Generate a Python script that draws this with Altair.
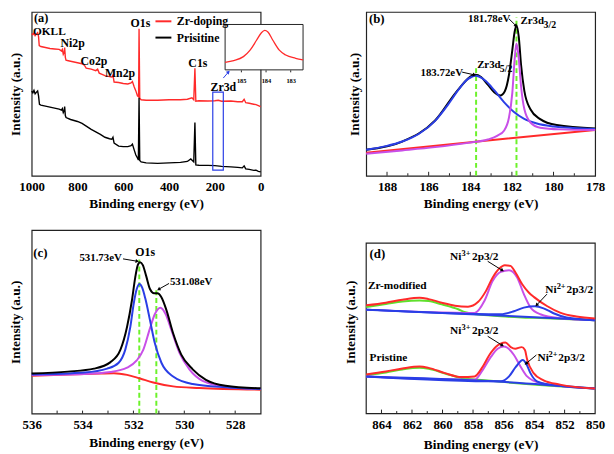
import altair as alt
import pandas as pd

FONT = "Liberation Serif"
RED = "#ff2a2a"
BLACK = "#000000"
BLUE = "#2a3ee6"
MAGENTA = "#c84fe8"
GREEN = "#5fe02c"
LIME = "#6cf22a"
FRAME = "#222222"

W = 232
H_TOP = 166
H_BOT = 186
XTITLE = "Binding energy (eV)"
YTITLE = "Intensity (a.u.)"

# ---------------- (a) survey spectra ----------------
a_red_ev = [1000, 995, 990, 985, 978, 974, 970, 967, 960, 940, 920, 900, 880, 870, 866, 862, 858, 856, 853, 850,
            840, 820, 800, 780, 770, 762, 740, 720, 712, 705, 690, 680, 660, 650, 645, 640, 620, 600, 580, 566,
            560, 552, 545, 538, 533, 531, 528, 522, 500, 450, 400, 350, 320, 300, 292, 287, 283, 270, 230, 200,
            185, 170, 130, 100, 80, 72, 65, 50, 30, 20, 10, 0]
a_red_int = [144, 143, 144.5, 142, 144, 145, 141, 132, 131, 130, 129, 128.5, 128, 126.5, 128, 123, 125, 130, 120, 117,
             116.5, 115.5, 114.5, 113.5, 112, 109, 108, 106.5, 108, 104, 102.5, 101.5, 100.5, 100, 102, 95, 94.5, 93.5, 93, 94,
             95.5, 90, 86, 81, 80, 149, 78.5, 77, 76.5, 76.5, 77, 77, 77.5, 79, 77, 109, 75.5, 76, 75.7, 76,
             76.5, 75.5, 75.7, 75, 75, 77.5, 74, 73.5, 72.5, 72, 71, 70]
a_blk_ev = [1000, 995, 990, 985, 978, 974, 970, 966, 960, 940, 920, 900, 880, 870, 866, 862, 858, 856, 853, 850,
            830, 800, 780, 760, 740, 720, 700, 680, 660, 650, 645, 640, 620, 600, 580, 566, 560, 552, 545, 538,
            534, 531, 528, 522, 500, 450, 400, 350, 320, 305, 292, 287, 283, 270, 230, 200, 170, 130, 100, 80,
            72, 65, 50, 30, 20, 10, 0]
a_blk_int = [85.7, 84, 86.5, 83, 85, 86, 81, 72.3, 71.5, 70.5, 69.5, 68.5, 67.5, 66.5, 68, 64, 66, 70, 61, 59,
             57, 55, 53, 50, 47, 44.5, 42, 39, 37.5, 37, 39, 33, 30, 29.5, 29.5, 30.5, 32, 26, 21, 18,
             16, 79, 15.5, 14, 13, 12.5, 13, 13.5, 14.5, 17, 14, 54, 11, 10.7, 10.5, 10.2, 9.5, 9, 8.5, 8,
             10, 7, 6.5, 5.5, 5.7, 4.5, 4]
a_series = ["Zr-doping", "Prisitine"]
a_lbl_text = ["OKLL", "Ni2p", "Co2p", "Mn2p", "O1s", "C1s", "Zr3d"]
a_lbl_ev = [923, 821, 728, 614, 525, 274, 163]
a_lbl_int = [146, 134.7, 116.3, 104, 155, 114, 89.7]
a_box = {"x0": [209], "x1": [163], "y0": [5.7], "y1": [84.7]}
# inset (Zr3d zoom)
in_ev = [185.65, 185.3, 184.91, 184.64, 184.38, 184.19, 184.05, 183.92, 183.72, 183.46, 183.2, 182.8, 182.5]
in_int = [7.7, 9.4, 13.4, 20, 30, 37.4, 40, 38.4, 30, 20, 15, 11.7, 10]
in_ticks = [185, 184, 183]

# ---------------- (b) Zr3d ----------------
b_blk_ev = [189.0, 187.27, 185.69, 184.58, 183.92, 183.76, 183.48, 183.16, 182.85, 182.56, 182.34, 182.14, 181.98,
            181.87, 181.78, 181.67, 181.56, 181.4, 181.11, 180.64, 179.85, 178.0]
b_blk_int = [15.8, 20.8, 33.6, 52.4, 60.8, 61.4, 60, 55.4, 50.8, 48.8, 51.4, 61.4, 76.4, 87.4, 91.4, 84.4, 67.4,
             51.4, 40.4, 34.4, 30.8, 28.8]
b_blu_ev = [189.0, 188.05, 187.27, 186.48, 185.69, 185.06, 184.58, 184.19, 183.92, 183.76, 183.56, 183.24, 182.85,
            182.38, 181.9, 181.43, 180.8, 180.01, 179.06, 178.0]
b_blu_int = [15.8, 18, 20.8, 25.4, 33.4, 43.4, 52, 58, 60.2, 60.8, 60.2, 57.4, 52, 44.8, 38.8, 34.8, 31.8, 30, 29, 28.4]
b_mag_ev = [189.0, 187.27, 185.69, 184.11, 183.16, 182.69, 182.38, 182.14, 181.98, 181.87, 181.78, 181.67, 181.56,
            181.4, 181.11, 180.64, 179.69, 178.0]
b_mag_int = [13.4, 15.4, 17.4, 20, 22, 24.4, 27.4, 35.4, 50.4, 70.4, 80.4, 71.4, 54.4, 40.4, 32.4, 29.2, 28.2, 27.8]
b_red_ev = [189, 183.75, 178]
b_red_int = [14, 20.7, 27.8]
b_peak_ev = [183.72, 181.78]
b_peak_top = [66.4, 96.4]
b_tick_ev = [188, 187, 186, 185, 184, 183, 182, 181, 180, 179]
b_tick_len = [2.4, 1.5, 2.4, 1.5, 2.4, 1.5, 2.4, 1.5, 2.4, 1.5]

# ---------------- (c) O1s ----------------
c_blk_ev = [536, 534.58, 533.55, 532.9, 532.51, 532.25, 532.06, 531.93, 531.83, 531.74, 531.63, 531.5, 531.35,
            531.19, 531.06, 530.9, 530.7, 530.44, 530.12, 529.67, 529.15, 528.38, 527]
c_blk_int = [24.4, 25.6, 27.4, 31.4, 39, 53, 69, 83, 90.6, 92.4, 90.6, 84, 76, 73.4, 73.4, 71, 63, 49, 36, 27,
             20.6, 17, 15.4]
c_blu_ev = [536, 533.93, 533.03, 532.58, 532.32, 532.12, 531.99, 531.87, 531.76, 531.66, 531.53, 531.35, 531.16,
            530.9, 530.44, 529.67, 528.38, 527]
c_blu_int = [23.8, 25, 27.4, 31, 39, 53, 67, 76, 79, 77, 70, 57, 43, 31, 22.6, 18, 16, 15]
c_mag_ev = [536, 533.93, 532.9, 532.25, 531.87, 531.61, 531.35, 531.16, 530.94, 530.73, 530.51, 530.19, 529.8,
            529.28, 528.38, 527]
c_mag_int = [23.6, 24.2, 25.4, 28, 32.4, 39, 52, 60.6, 64.6, 60.6, 51, 37, 27, 20, 16.4, 15]
c_red_ev = [536, 534.58, 533.29, 532.77, 532.25, 531.74, 531.22, 530.44, 529.41, 527]
c_red_int = [23, 23.8, 24.4, 24.6, 23.6, 21.4, 19, 16.6, 15.6, 14.6]
c_peak_ev = [531.77, 531.1]
c_peak_top = [94, 76]
c_tick_ev = [535, 534, 533, 532, 531, 530, 529, 528]
c_tick_len = [1.8, 1.8, 1.8, 1.8, 1.8, 1.8, 1.8, 1.8]

# ---------------- (d) Ni2p ----------------
d_up_red_ev = [865, 863.71, 862.63, 861.5, 860.91, 860.05, 859.19, 858.33, 857.68, 857.15, 856.72, 856.28, 855.92,
               855.55, 855.21, 854.78, 854.35, 854.0, 853.16, 852.3, 851.23, 850]
d_up_red_int = [65.8, 67.4, 69.2, 70.4, 69.6, 67.4, 65.6, 65, 67.8, 74.6, 82.6, 88.2, 90.2, 89.8, 85.6, 78.6, 73.6,
                70.8, 65.4, 61.4, 59, 57.8]
d_up_mag_ev = [865, 857.9, 857.25, 856.72, 856.18, 855.64, 855.1, 854.67, 854.24, 853.59, 852.3, 850]
d_up_mag_int = [63.2, 61.2, 68.6, 80.6, 86.2, 87.2, 82.6, 72.6, 64.6, 60.4, 58, 56.8]
d_up_blu_ev = [865, 856.18, 855.32, 854.67, 853.94, 853.38, 852.73, 851.87, 850]
d_up_blu_int = [63.2, 60.4, 62.2, 64.4, 65.2, 64, 61, 58.4, 56.8]
d_up_grn_ev = [865, 863.71, 862.63, 861.5, 860.91, 860.05, 858.97, 858.57, 856.63, 854.03, 850]
d_up_grn_int = [64.8, 66.6, 68.2, 68.8, 68.4, 66.4, 63.4, 61.8, 59.4, 58.2, 56.8]
d_up_base_ev = [865, 856.63, 850]
d_up_base_int = [63.2, 59.8, 56.8]
d_lo_red_ev = [865, 863.71, 862.63, 861.5, 860.91, 859.84, 858.76, 857.9, 857.36, 856.93, 856.5, 855.88, 855.53,
               855.24, 854.81, 854.6, 854.46, 854.03, 853.38, 852.3, 850]
d_lo_red_int = [23.8, 25.6, 27.4, 28.6, 27.8, 24.6, 22.2, 22.6, 28.6, 35.6, 40.6, 43.2, 40.4, 39.4, 40.4, 38.6,
                33, 24.6, 20.2, 17.6, 15.2]
d_lo_mag_ev = [865, 857.9, 857.36, 856.82, 856.39, 855.99, 855.75, 855.32, 854.89, 854.46, 853.59, 850]
d_lo_mag_int = [22.6, 20.6, 26.6, 34.6, 39.4, 40.8, 40, 35.6, 28.6, 22.6, 18.6, 15.2]
d_lo_blu_ev = [865, 856.18, 855.64, 855.21, 854.74, 854.5, 854.24, 853.81, 852.95, 850]
d_lo_blu_int = [22.6, 19.6, 22.6, 28.2, 32.6, 30, 24.6, 19.6, 17.6, 15.2]
d_lo_grn_ev = [865, 863.71, 862.63, 861.5, 860.91, 859.84, 858.76, 857.25, 850]
d_lo_grn_int = [23.4, 25, 26.8, 27.8, 27.2, 24.4, 21.6, 20.2, 15.2]
d_lo_base_ev = [865, 856.63, 850]
d_lo_base_int = [22.6, 19.6, 15.2]
d_tick_ev = [864, 863, 862, 861, 860, 859, 858, 857, 856, 855, 854, 853, 852, 851]
d_tick_len = [2.4, 1.5, 2.4, 1.5, 2.4, 1.5, 2.4, 1.5, 2.4, 1.5, 2.4, 1.5, 2.4, 1.5]
d_frame = {"x0": [865], "x1": [850], "y0": [0], "y1": [103.6]}


def sc(domain, rng=None):
    if rng is None:
        return alt.Scale(domain=domain, nice=False, zero=False)
    return alt.Scale(domain=domain, range=rng, nice=False, zero=False)


def make_panel(xdom, ydom, xvals, ypad, xpad):
    return {
        "xs": sc(xdom), "ys": sc(ydom),
        "xa": alt.Axis(values=xvals, title=XTITLE, format="d", labelPadding=5, titlePadding=xpad),
        "ya": alt.Axis(title=YTITLE, labels=False, titlePadding=ypad),
    }


def X(field, P):
    return alt.X(field, scale=P["xs"], axis=P["xa"])


def Y(field, P):
    return alt.Y(field, scale=P["ys"], axis=P["ya"])


def line(ev, inten, color, P, width=1.8, interp="monotone"):
    df = pd.DataFrame({"ev": ev, "I": inten})
    return alt.Chart(df).mark_line(color=color, strokeWidth=width, interpolate=interp).encode(
        x=X("ev:Q", P), y=Y("I:Q", P))


def texts(txt, ev, inten, P, size=11, align="center"):
    df = pd.DataFrame({"t": txt, "ev": ev, "I": inten})
    return alt.Chart(df).mark_text(font=FONT, fontWeight="bold", fontSize=size, align=align,
                                   baseline="middle", color="black").encode(
        x=X("ev:Q", P), y=Y("I:Q", P), text="t:N")


def arrows(x1, y1, x2, y2, ang, P, color="black"):
    df = pd.DataFrame({"x1": x1, "y1": y1, "x2": x2, "y2": y2, "ang": ang})
    base = alt.Chart(df)
    r = base.mark_rule(color=color, strokeWidth=1).encode(
        x=X("x1:Q", P), y=Y("y1:Q", P), x2="x2:Q", y2="y2:Q")
    h = base.mark_point(shape="triangle", filled=True, color=color, size=16, opacity=1).encode(
        x=X("x2:Q", P), y=Y("y2:Q", P), angle=alt.Angle("ang:Q", scale=None))
    return r + h


def vdash(ev, top, P):
    df = pd.DataFrame({"ev": ev, "top": top, "bot": [0] * len(ev)})
    return alt.Chart(df).mark_rule(color=LIME, strokeWidth=2, strokeDash=[5, 3]).encode(
        x=X("ev:Q", P), y=Y("bot:Q", P), y2="top:Q")


def ticks(tev, tlen, P):
    df = pd.DataFrame({"ev": tev, "len": tlen, "bot": [0] * len(tev)})
    return alt.Chart(df).mark_rule(color=FRAME, strokeWidth=1).encode(
        x=X("ev:Q", P), y=Y("bot:Q", P), y2="len:Q")


def frame_rect(d, P, fill="transparent", stroke=FRAME, width=1.2):
    return alt.Chart(pd.DataFrame(d)).mark_rect(fill=fill, stroke=stroke, strokeWidth=width).encode(
        x=X("x0:Q", P), x2="x1:Q", y=Y("y0:Q", P), y2="y1:Q")


# ================= panel (a) =================
PA = make_panel([1000, 0], [0, 166], [1000, 800, 600, 400, 200, 0], 9, 3)
survey_df = pd.concat([
    pd.DataFrame({"ev": a_red_ev, "I": a_red_int, "s": a_series[0]}),
    pd.DataFrame({"ev": a_blk_ev, "I": a_blk_int, "s": a_series[1]}),
])
survey = alt.Chart(survey_df).mark_line(strokeWidth=1.4, interpolate="linear").encode(
    x=X("ev:Q", PA), y=Y("I:Q", PA),
    color=alt.Color("s:N", scale=alt.Scale(domain=a_series, range=[RED, BLACK]),
                    legend=alt.Legend(orient="none", legendX=124, legendY=0, title=None,
                                      symbolType="stroke", symbolSize=260, symbolStrokeWidth=2,
                                      labelFont=FONT, labelFontSize=12, labelFontWeight="bold",
                                      labelColor="black", rowPadding=0.5, labelOffset=4, padding=0)),
)
main_a = alt.layer(
    survey,
    frame_rect(a_box, PA, stroke=BLUE),
    texts(a_lbl_text[:1], a_lbl_ev[:1], a_lbl_int[:1], PA, size=11.5),
    texts(a_lbl_text[1:], a_lbl_ev[1:], a_lbl_int[1:], PA, size=12),
    texts(["(a)"], [990], [160], PA, size=12.5, align="left"),
    arrows([163], [99], [142], [104.7], [45], PA, color=BLUE),
)
PIN = {
    "xs": sc([185.65, 182.5], [196, 275]),
    "ys": sc([0, 46], [58.7, 12.7]),
    "xa": alt.Axis(orient="bottom", offset=-(H_TOP - 58.7), values=in_ticks, labelFontSize=6.5, ticks=True,
                   tickSize=2, tickColor=FRAME, labelPadding=6, title=None, format="d"),
    "ya": None,
}
inset = alt.layer(
    frame_rect({"x0": [185.65], "x1": [182.5], "y0": [0], "y1": [46]}, PIN, fill="white", width=1),
    line(in_ev, in_int, RED, PIN, width=1.3),
)
panel_a = alt.layer(main_a, inset).resolve_scale(x="independent", y="independent").properties(
    width=W, height=H_TOP)

# ================= panel (b) =================
PB = make_panel([189, 178], [0, 99.6], [188, 186, 184, 182, 180, 178], 5, 3)
panel_b = alt.layer(
    ticks(b_tick_ev, b_tick_len, PB),
    vdash(b_peak_ev, b_peak_top, PB),
    line(b_blk_ev, b_blk_int, BLACK, PB, 2),
    line(b_blu_ev, b_blu_int, BLUE, PB, 2),
    line(b_red_ev, b_red_int, RED, PB, 2, "linear"),
    line(b_mag_ev, b_mag_int, MAGENTA, PB, 2),
    texts(["(b)"], [188.87], [95.5], PB, size=13, align="left"),
    texts(["183.72eV", "181.78eV"], [185.37, 183.09], [62.4, 95.4], PB, size=11),
    texts(["Zr3d", "Zr3d"], [181.59, 183.67], [94, 67.4], PB, size=11, align="left"),
    texts(["3/2", "5/2"], [180.48, 182.58], [91.5, 65], PB, size=10, align="left"),
    arrows([184.39, 182.14], [63, 95.4], [183.83, 181.82], [61.4, 91.4], [102, 135], PB),
).properties(width=W, height=H_TOP)

# ================= panel (c) =================
PC = make_panel([536, 527], [0, 112], [536, 534, 532, 530, 528], 9, 4)
panel_c = alt.layer(
    ticks(c_tick_ev, c_tick_len, PC),
    vdash(c_peak_ev, c_peak_top, PC),
    line(c_red_ev, c_red_int, RED, PC, 2),
    line(c_mag_ev, c_mag_int, MAGENTA, PC, 2),
    line(c_blu_ev, c_blu_int, BLUE, PC, 2),
    line(c_blk_ev, c_blk_int, BLACK, PC, 2),
    texts(["(c)"], [535.94], [98], PC, size=13, align="left"),
    texts(["O1s"], [531.54], [98.6], PC, size=12),
    texts(["531.73eV", "531.08eV"], [533.29, 529.73], [94.6, 80], PC, size=11),
    arrows([532.41, 530.6], [94.4, 79.4], [531.87, 530.99], [93, 76], [100, 240], PC),
).properties(width=W, height=H_BOT)

# ================= panel (d) =================
PD = make_panel([865, 850], [0, 111.6], [864, 862, 860, 858, 856, 854, 852, 850], 9, 6)
panel_d = alt.layer(
    ticks(d_tick_ev, d_tick_len, PD),
    frame_rect(d_frame, PD),
    line(d_up_grn_ev, d_up_grn_int, GREEN, PD, 2),
    line(d_up_mag_ev, d_up_mag_int, MAGENTA, PD, 2),
    line(d_up_blu_ev, d_up_blu_int, BLUE, PD, 2),
    line(d_up_base_ev, d_up_base_int, BLUE, PD, 2),
    line(d_up_red_ev, d_up_red_int, RED, PD, 2),
    line(d_lo_grn_ev, d_lo_grn_int, GREEN, PD, 2),
    line(d_lo_mag_ev, d_lo_mag_int, MAGENTA, PD, 2),
    line(d_lo_blu_ev, d_lo_blu_int, BLUE, PD, 2),
    line(d_lo_base_ev, d_lo_base_int, BLUE, PD, 2),
    line(d_lo_red_ev, d_lo_red_int, RED, PD, 2),
    texts(["(d)"], [864.78], [97], PD, size=13, align="left"),
    texts(["Zr-modified", "Pristine"], [864.89, 864.78], [77.6, 34], PD, size=11.5, align="left"),
    texts(["Ni", "Ni", "Ni", "Ni"], [859.51, 853.27, 859.51, 853.77], [95, 75, 50.2, 33.6], PD,
          size=11.5, align="left"),
    texts(["3+", "2+", "3+", "2+"], [858.76, 852.52, 858.76, 853.06], [97.5, 77.5, 52.7, 36.1], PD,
          size=8.5, align="left"),
    texts(["2p3/2", "2p3/2", "2p3/2", "2p3/2"], [858.07, 851.87, 858.07, 852.41], [95, 75, 50.2, 33.6], PD,
          size=11.5, align="left"),
    arrows([857.04, 853.16, 857.04, 853.85], [92.6, 72.6, 47, 35.6], [856.11, 853.81, 856.11, 854.5],
           [87.2, 66.2, 41.6, 30.6], [122, 223, 122, 230], PD),
).properties(width=W, height=H_BOT, view=alt.ViewBackground(stroke="transparent"))

chart = alt.concat(panel_a, panel_b, panel_c, panel_d, columns=2,
                   spacing={"row": 55, "column": 107}, bounds="flush").properties(
    padding={"left": 0, "top": 0, "right": 0, "bottom": 0}
).configure_axis(
    grid=False, domain=False, ticks=False, labelFont=FONT, labelFontWeight="bold", labelFontSize=13,
    labelColor="black", titleFont=FONT, titleFontWeight="bold", titleFontSize=13.5, titleColor="black",
    labelOverlap=False, labelFlush=False
).configure_view(stroke=FRAME, strokeWidth=1.2)

chart.save("out.html", embed_options={"renderer": "svg", "actions": False})
